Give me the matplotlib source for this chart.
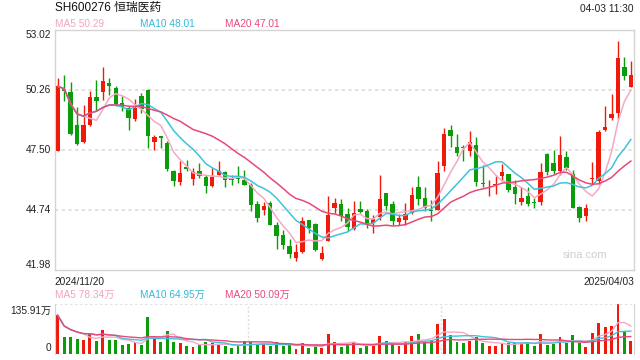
import matplotlib
matplotlib.use("Agg")
import matplotlib.pyplot as plt
import numpy as np
import pandas as pd

plt.rcParams['font.family'] = ['Liberation Sans', 'Noto Sans CJK SC', 'DejaVu Sans']

# --- данные ---
title = "SH600276 恒瑞医药"
stamp = "04-03 11:30"
start_label = "2024/11/20"
end_label = "2025/04/03"

opens = [47.46, 50.29, 50.16, 48.62, 47.85, 48.65, 49.93, 50.14, 50.57, 50.34,
         49.63, 49.42, 48.93, 49.96, 50.26, 47.85, 48.12, 47.81, 46.54, 46.01,
         46.70, 46.17, 46.50, 46.24, 45.85, 46.35, 46.47, 46.20, 46.24, 46.11,
         45.89, 45.00, 44.74, 45.05, 44.02, 43.56, 43.05, 42.52, 42.79, 44.27,
         44.08, 42.49, 43.31, 44.82, 45.00, 44.54, 43.87, 44.77, 44.68, 44.13,
         44.39, 45.51, 45.00, 44.17, 44.25, 44.59, 45.78, 45.28, 44.74, 44.74,
         46.73, 48.42, 47.62, 47.61, 47.43, 47.70, 45.95, 45.95, 45.86, 46.31,
         46.38, 45.78, 45.08, 45.39, 45.08, 45.09, 47.32, 46.89, 46.50, 47.16,
         46.40, 44.86, 44.47, 46.16, 46.08, 48.39, 48.96, 49.19, 51.29, 50.40]
highs = [50.80, 50.95, 50.62, 49.46, 49.54, 50.19, 50.72, 51.29, 50.80, 50.42,
         49.96, 49.50, 49.85, 50.11, 50.30, 48.19, 48.12, 47.89, 46.58, 46.97,
         47.04, 46.66, 46.89, 46.35, 46.66, 46.99, 46.50, 46.35, 46.73, 46.55,
         45.97, 45.12, 45.09, 45.12, 44.17, 43.82, 43.41, 43.16, 44.40, 44.28,
         44.13, 43.05, 45.35, 45.28, 45.23, 44.82, 45.12, 45.16, 44.79, 44.51,
         46.35, 45.51, 45.12, 44.54, 45.05, 45.77, 46.31, 45.77, 45.17, 46.97,
         48.50, 48.65, 48.24, 47.73, 48.35, 48.08, 46.81, 46.12, 46.27, 46.84,
         46.38, 46.12, 45.77, 45.77, 45.28, 46.89, 47.35, 47.47, 48.12, 47.46,
         46.58, 44.89, 45.02, 46.93, 48.42, 49.53, 50.08, 52.49, 51.75, 51.60]
lows = [47.42, 49.76, 48.16, 47.73, 47.81, 48.60, 49.30, 49.80, 50.03, 49.50,
        49.27, 48.42, 48.81, 49.19, 47.58, 47.50, 47.58, 46.54, 45.81, 45.89,
        46.54, 45.89, 46.20, 45.51, 45.77, 46.35, 45.77, 45.89, 45.97, 45.86,
        44.70, 44.16, 44.51, 44.02, 42.95, 42.95, 42.52, 42.39, 42.75, 43.67,
        42.85, 42.44, 43.28, 44.59, 44.23, 43.74, 43.82, 44.59, 43.90, 43.67,
        44.28, 44.74, 44.05, 44.05, 44.05, 44.54, 44.97, 44.66, 44.20, 44.74,
        46.54, 47.61, 47.20, 46.97, 47.20, 45.81, 45.77, 45.39, 45.48, 46.12,
        45.54, 45.02, 44.97, 44.89, 44.82, 44.97, 46.35, 46.38, 46.35, 46.58,
        44.82, 44.17, 44.20, 45.92, 45.92, 48.38, 48.85, 48.93, 50.69, 50.37]
closes = [50.42, 50.19, 48.22, 47.76, 48.62, 49.93, 49.73, 50.68, 50.45, 49.60,
          49.45, 48.96, 49.42, 49.39, 48.15, 48.08, 48.04, 46.61, 46.08, 46.41,
          46.61, 46.46, 46.27, 45.85, 46.24, 46.54, 46.12, 46.12, 46.17, 45.89,
          44.97, 44.36, 44.93, 44.05, 43.54, 43.10, 42.70, 42.79, 44.23, 43.90,
          42.90, 42.75, 44.48, 45.05, 44.43, 43.94, 44.59, 44.63, 44.08, 44.31,
          45.23, 44.93, 44.20, 44.36, 44.54, 45.43, 45.23, 44.82, 44.69, 46.43,
          48.22, 48.12, 47.36, 47.58, 47.85, 46.00, 45.92, 45.98, 45.94, 46.47,
          45.66, 45.48, 45.28, 45.02, 45.03, 46.47, 46.47, 46.50, 47.27, 46.66,
          44.82, 44.36, 44.82, 46.19, 48.31, 48.54, 49.14, 51.72, 50.88, 50.92]
# объём, в 万
volumes = [106.4, 47.8, 47.8, 41.5, 38.8, 55.0, 36.1, 65.8, 38.8, 38.8,
           25.3, 28.0, 32.5, 25.3, 101.0, 43.3, 34.3, 63.1, 34.3, 31.6,
           22.6, 19.8, 25.3, 34.3, 29.8, 28.0, 22.6, 18.9, 22.6, 36.1,
           34.3, 25.3, 29.8, 22.6, 34.3, 22.6, 25.3, 16.2, 31.6, 18.0,
           22.6, 18.0, 55.0, 33.4, 19.8, 27.1, 33.4, 18.0, 23.5, 22.6,
           49.6, 36.1, 29.8, 22.6, 34.3, 49.6, 55.0, 34.3, 38.8, 82.1,
           95.6, 52.3, 34.3, 31.6, 36.1, 47.8, 29.8, 22.6, 22.6, 29.8,
           29.8, 34.3, 29.8, 34.3, 22.6, 55.0, 25.3, 28.0, 46.9, 31.6,
           52.3, 31.6, 19.8, 58.6, 85.7, 74.0, 76.7, 135.91, 61.3, 37.0]

price_ticks = [53.02, 50.26, 47.50, 44.74, 41.98]
ma_windows = [5, 10, 20]
price_ma_labels = ["MA5 50.29", "MA10 48.01", "MA20 47.01"]
vol_ma_labels = ["MA5 78.34万", "MA10 64.95万", "MA20 50.09万"]
vol_max_label = "135.91万"

# --- цвета ---
up_color = "#f01a0a"
down_color = "#0a9c0a"
ma_colors = ["#f7a8c4", "#3ec3dc", "#e8487a"]
label_colors = ["#f5a3c0", "#36b9d6", "#e64a7d"]
frame_color = "#d4d4d4"
grid_color = "#dcdcdc"

df = pd.DataFrame({
    "open": opens, "high": highs, "low": lows,
    "close": closes, "volume": volumes,
})
x = np.arange(len(df))
up = df["close"] >= df["open"]
colors = np.where(up, up_color, down_color)

fig = plt.figure(figsize=(6.4, 3.6), dpi=100)
ax = fig.add_axes([0.0852, 0.2508, 0.9055, 0.6667])
ax_v = fig.add_axes([0.0852, 0.0153, 0.9055, 0.1394])


# свечи: тени и тела
ax.vlines(x, df["low"], df["high"], color=colors, linewidth=1.0, zorder=2)
body_bottom = np.minimum(df["open"], df["close"])
body_height = np.maximum((df["close"] - df["open"]).abs(), 0.04)
ax.bar(x, body_height, bottom=body_bottom, width=0.68,
       color=colors, linewidth=0, zorder=3)

# скользящие средние цены
for w, c in zip(ma_windows, ma_colors):
    ma = df["close"].rolling(w, min_periods=1).mean()
    ax.plot(x, ma, color=c, linewidth=1.1, zorder=4)

ax.set_xlim(-0.5, len(df) - 0.5)
ax.set_ylim(price_ticks[-1], price_ticks[0])
ax.set_xticks([])
ax.set_yticks([])
for v in price_ticks[1:-1]:
    ax.axhline(v, color=grid_color, linestyle=(0, (2, 2)), linewidth=1.2, zorder=1)
for s in ax.spines.values():
    s.set_color(frame_color)
    s.set_linewidth(1.0)

# подписи оси цены
for i, v in enumerate(price_ticks):
    va = "center"
    if i == 0:
        va = "top"
    elif i == len(price_ticks) - 1:
        va = "bottom"
    ax.text(-0.006, v, f"{v:.2f}", transform=ax.get_yaxis_transform(),
            ha="right", va=va, fontsize=7.3, color="#222222")

ax.text(0.0, -0.03, start_label, transform=ax.transAxes,
        ha="left", va="top", fontsize=7.3, color="#222222")
ax.text(1.0, -0.03, end_label, transform=ax.transAxes,
        ha="right", va="top", fontsize=7.3, color="#222222")
ax.text(0.915, 0.06, "sina.com", transform=ax.transAxes,
        ha="center", va="center", fontsize=8, color="#cfcfcf")


# объём
ax_v.bar(x, df["volume"], width=0.45, color=colors, linewidth=0, zorder=2)
for w, c in zip(ma_windows, ma_colors):
    vma = df["volume"].rolling(w, min_periods=1).mean()
    ax_v.plot(x, vma, color=c, linewidth=1.0, zorder=3)

ax_v.set_xlim(-0.5, len(df) - 0.5)
ax_v.set_ylim(0, 135.91)
ax_v.set_xticks([])
ax_v.set_yticks([])
for s in ["left", "right"]:
    ax_v.spines[s].set_color(frame_color)
ax_v.spines["top"].set_visible(False)
ax_v.spines["bottom"].set_visible(False)
ax_v.axhline(135.91, color=grid_color, linestyle=(0, (1.5, 1.5)), linewidth=1.2)
for f in [1 / 3, 2 / 3]:
    ax_v.axvline(-0.5 + f * len(df), color=grid_color,
                 linestyle=(0, (1.5, 1.5)), linewidth=1.0, zorder=1)

ax_v.text(-0.006, 0.86, vol_max_label, transform=ax_v.transAxes,
          ha="right", va="center", fontsize=7.3, color="#222222")
ax_v.text(-0.006, 0.12, "0", transform=ax_v.transAxes,
          ha="right", va="center", fontsize=7.3, color="#222222")


# шапка
fig.text(55 / 640, 1 - 8 / 360, title, ha="left", va="center",
         fontsize=8.5, color="#111111")
fig.text(634 / 640, 1 - 9 / 360, stamp, ha="right", va="center",
         fontsize=7.3, color="#222222")

label_x = [55, 140, 225]
for lx, txt, c in zip(label_x, price_ma_labels, label_colors):
    fig.text(lx / 640, 1 - 24 / 360, txt, ha="left", va="center",
             fontsize=7.3, color=c)
for lx, txt, c in zip(label_x, vol_ma_labels, label_colors):
    fig.text(lx / 640, 1 - 295 / 360, txt, ha="left", va="center",
             fontsize=7.3, color=c)

fig.savefig("out.png", dpi=100)
